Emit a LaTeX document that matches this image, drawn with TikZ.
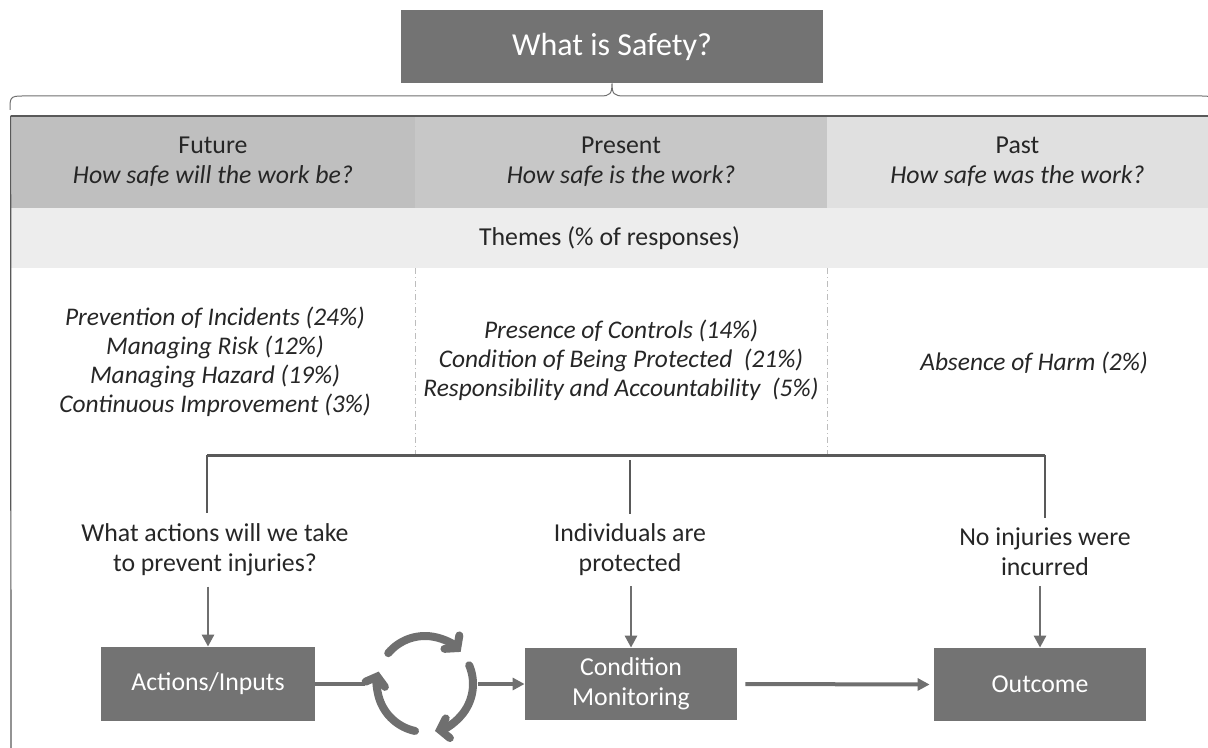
\documentclass[tikz,border=0pt]{standalone}
\usepackage{fontspec}
\setmainfont{Carlito}
\usetikzlibrary{arrows.meta, positioning, calc}
\usepackage{xcolor}
\definecolor{SafetyBox}{HTML}{737373}
\definecolor{SafetyFuture}{HTML}{BFBFBF}
\definecolor{SafetyPresent}{HTML}{C7C7C7}
\definecolor{SafetyPast}{HTML}{E0E0E0}
\definecolor{SafetyTheme}{HTML}{EDEDED}
\definecolor{SafetyLine}{HTML}{595959}
\definecolor{SafetyArrow}{HTML}{6F6F6F}
\definecolor{SafetyText}{HTML}{262626}
\definecolor{SafetyDivider}{HTML}{BDBDBD}
\tikzset{
    % Box styles - all sharp corners
    darkbox/.style={
        rectangle,
        fill=SafetyBox,
        text=white,
        minimum width=107pt,
        minimum height=37pt,
        inner sep=0pt,
        align=center,
        font=\fontsize{12.9}{15}\selectfont
    },
    headcell/.style={
        rectangle,
        minimum height=46pt,
        inner sep=0pt,
        text=SafetyText,
        align=center,
        font=\fontsize{12.9}{15}\selectfont
    },
    themelist/.style={
        text=SafetyText,
        align=center,
        font=\fontsize{12.7}{14.5}\selectfont\itshape
    },
    question/.style={
        text=SafetyText,
        align=center,
        inner sep=5pt,
        font=\fontsize{12.9}{15}\selectfont
    },
    % Line styles
    bracket/.style={
        line width=1pt,
        draw=SafetyLine
    },
    curly/.style={
        line width=0.5pt,
        draw=SafetyArrow
    },
    divider/.style={
        line width=0.4pt,
        draw=SafetyDivider,
        dash pattern=on 3pt off 1.5pt on 0.5pt off 1.5pt
    },
    arrow/.style={
        -{Triangle[length=6pt, width=6pt]},
        line width=1.4pt,
        draw=SafetyArrow
    },
    cyclearrow/.style={
        -{Straight Barb[length=4pt, width=10pt, line cap=round]},
        line width=4pt,
        line cap=round,
        draw=SafetyArrow
    }
}

\begin{document}
\begin{tikzpicture}[x=0.5pt, y=-0.5pt]
    \useasboundingbox (0,0) rectangle (1208,748);

    % Title and brace
    \node[darkbox, minimum width=211pt, minimum height=36.5pt,
          font=\fontsize{16}{19}\selectfont] (title) at (612,46.5) {What is Safety?};
    \coordinate (braceleft) at (10,110);
    \coordinate (braceright) at (1214,110);
    \draw[curly] (braceleft) .. controls (10,98) and (10,96) .. (22,96)
        -- (600,96) .. controls (610,96) and (612,94) .. (title.south)
        .. controls (612,94) and (614,96) .. (624,96)
        -- (1202,96) .. controls (1214,96) and (1214,98) .. (braceright);

    % Header cells
    \node[headcell, fill=SafetyFuture, minimum width=202pt] (future) at (213,162)
        {Future\\\textit{How safe will the work be?}};
    \node[headcell, fill=SafetyPresent, minimum width=206pt] (present) at (621,162)
        {Present\\\textit{How safe is the work?}};
    \node[headcell, fill=SafetyPast, minimum width=190.5pt] (past) at (1017.5,162)
        {Past\\\textit{How safe was the work?}};
    \node[headcell, fill=SafetyTheme, minimum width=598.5pt, minimum height=30pt] (themes)
        at (609.5,238) {Themes (\% of responses)};

    % Table frame
    \draw[line width=1pt, draw=SafetyLine] (future.north west) -- (past.north east);
    \draw[line width=0.6pt, draw=SafetyLine] (future.north west) -- (11,748);
    \draw[divider] (themes.south -| future.east) -- (future.east |- 0,455);
    \draw[divider] (themes.south -| present.east) -- (present.east |- 0,455);

    % Themes
    \node[themelist] (futurelist) at (215,362) {Prevention of Incidents (24\%)\\Managing Risk (12\%)\\Managing Hazard (19\%)\\Continuous Improvement (3\%)};
    \node[themelist] (presentlist) at (621,360) {Presence of Controls (14\%)\\Condition of Being Protected~ (21\%)\\Responsibility and Accountability~ (5\%)};
    \node[themelist] (pastlist) at (1034,363) {Absence of Harm (2\%)};

    % Questions
    \node[question] (qfuture) at (215,550) {What actions will we take\\to prevent injuries?};
    \node[question] (qpresent) at (630,550) {Individuals are\\protected};
    \node[question] (qpast) at (1045,552) {No injuries were\\incurred};

    % Bracket down to the questions
    \coordinate (jfuture) at (207,455);
    \coordinate (jpresent) at (630,460);
    \coordinate (jpast) at (1045,455);
    \draw[bracket, line width=1.5pt] (jfuture) -- (jpast);
    \draw[bracket] (jfuture) -- (jfuture |- qfuture.north);
    \draw[bracket] (jpresent) -- (jpresent |- qpresent.north);
    \draw[bracket] (jpast) -- (jpast |- qpast.north);

    % Bottom boxes
    \node[darkbox] (act) at (208,684) {Actions/Inputs};
    \node[darkbox, minimum width=106pt, minimum height=36pt] (cond) at (631,684) {Condition\\Monitoring};
    \node[darkbox, minimum width=106pt, minimum height=36.5pt] (out) at (1040,684.5) {Outcome};
    \node[circle, minimum size=50pt, inner sep=0pt] (cyc) at (425,684) {};

    % Arrows down
    \draw[arrow] (qfuture.south -| act.north) -- (act.north);
    \draw[arrow] (qpresent.south -| cond.north) -- (cond.north);
    \draw[arrow] (qpast.south -| out.north) -- (out.north);

    % Flow along the bottom
    \draw[arrow, -, line width=2pt] (act.east) -- ([xshift=-5pt]cyc.west);
    \draw[arrow, line width=2pt] ([xshift=1.5pt]cyc.east) -- (cond.west);
    \draw[arrow, line width=2pt] ([xshift=4pt]cond.east) -- ([xshift=-2pt]out.west);

    % Cycle icon
    \draw[cyclearrow] ($(cyc)+(140:24pt)$) arc[start angle=140, end angle=42, radius=24pt];
    \draw[cyclearrow] ($(cyc)+(23:24pt)$) arc[start angle=23, end angle=-78, radius=24pt];
    \draw[cyclearrow] ($(cyc)+(-102:24pt)$) arc[start angle=-102, end angle=-195, radius=24pt];
\end{tikzpicture}
\end{document}
